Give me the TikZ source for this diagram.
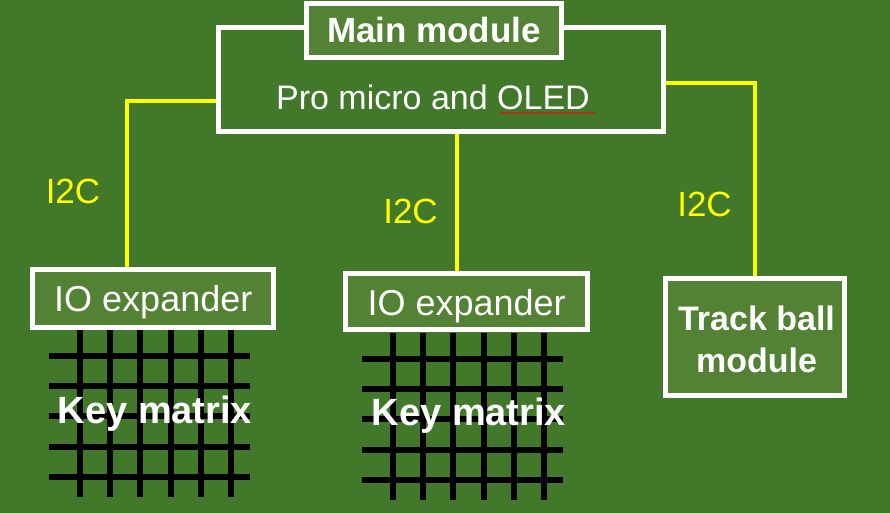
\documentclass[tikz,border=0pt]{standalone}
\usepackage{fontspec}
\setmainfont{Liberation Sans}
\usetikzlibrary{calc,decorations.pathmorphing}
\definecolor{bggreen}{HTML}{41782A}
\definecolor{boxgreen}{HTML}{548235}
\definecolor{wire}{HTML}{FFFF00}
\begin{document}
\begin{tikzpicture}[x=1pt,y=-1pt,
  frame/.style={draw=white, line width=5pt, inner sep=0pt},
  box/.style={frame, fill=boxgreen},
  i2c/.style={draw=wire, line width=4pt},
  lbl/.style={text=wire, font=\fontsize{35}{40}\selectfont, inner sep=0pt, anchor=base},
  txt/.style={text=white, inner sep=0pt, anchor=base},
  gridline/.style={draw=black, line width=6pt},
  spell/.style={draw=red, line width=0.7pt, decorate, decoration={snake, amplitude=0.8pt, segment length=4pt}}
]
% background
\fill[bggreen] (0,0) rectangle (890,513);

% key matrices (grids)
\foreach \sx/\sy in {0/0, 313/3} {
  \begin{scope}[shift={(\sx,\sy)}]
    \foreach \i in {0,...,5}
      \draw[gridline] ({80+30.2*\i},330) -- ({80+30.2*\i},497);
    \foreach \j in {0,...,4}
      \draw[gridline] (49,{356+30.2*\j}) -- (250,{356+30.2*\j});
  \end{scope}
}

% main module
\node[frame, minimum width=445pt, minimum height=104pt] (mainbox) at (441,79.5) {};
\node[box, minimum width=255pt, minimum height=54pt] (maintitle) at (434,30.5) {};
\node[txt, font=\fontsize{35}{40}\selectfont\bfseries] (maintext) at (434,43) {Main module};
\node[txt, font=\fontsize{34}{40}\selectfont] (protext) at (433,110) {Pro micro and OLED};
\coordinate (oledL) at (500,113);
\coordinate (oledR) at (596,113);
\draw[spell] (oledL) -- (oledR);

% IO expanders
\node[box, minimum width=241pt, minimum height=58pt] (io1) at (153,298.5) {};
\node[txt, font=\fontsize{36}{40}\selectfont] (io1text) at (153.3,311.7) {IO expander};
\node[box, minimum width=242pt, minimum height=56pt] (io2) at (466.5,301.5) {};
\node[txt, font=\fontsize{36}{40}\selectfont] (io2text) at (466.7,315) {IO expander};

% key matrix labels
\node[txt, font=\fontsize{38}{40}\selectfont\bfseries] (km1) at (155,423) {Key matrix};
\node[txt, font=\fontsize{38}{40}\selectfont\bfseries] (km2) at (469,425) {Key matrix};

% track ball module
\node[box, minimum width=179pt, minimum height=117pt] (track) at (755,337) {};
\node[txt, font=\fontsize{34}{42}\selectfont\bfseries] (tracktext1) at (756.5,330) {Track ball};
\node[txt, font=\fontsize{34}{42}\selectfont\bfseries] (tracktext2) at (756.5,372) {module};

% I2C connectors
\coordinate (leftdrop) at ($(io1.north)+(-26.5,0)$);
\draw[i2c] ($(mainbox.west)+(0,21.5)$) -| (leftdrop);
\coordinate (midtop) at ($(mainbox.south)+(15.7,0)$);
\draw[i2c] (midtop) -- (midtop |- io2.north);
\draw[i2c] ($(mainbox.east)+(0,3.5)$) -| (track.north);

% I2C labels
\node[lbl] (l1) at (73,203) {I2C};
\node[lbl] (l2) at (410.5,223) {I2C};
\node[lbl] (l3) at (704.5,216) {I2C};
\end{tikzpicture}
\end{document}
